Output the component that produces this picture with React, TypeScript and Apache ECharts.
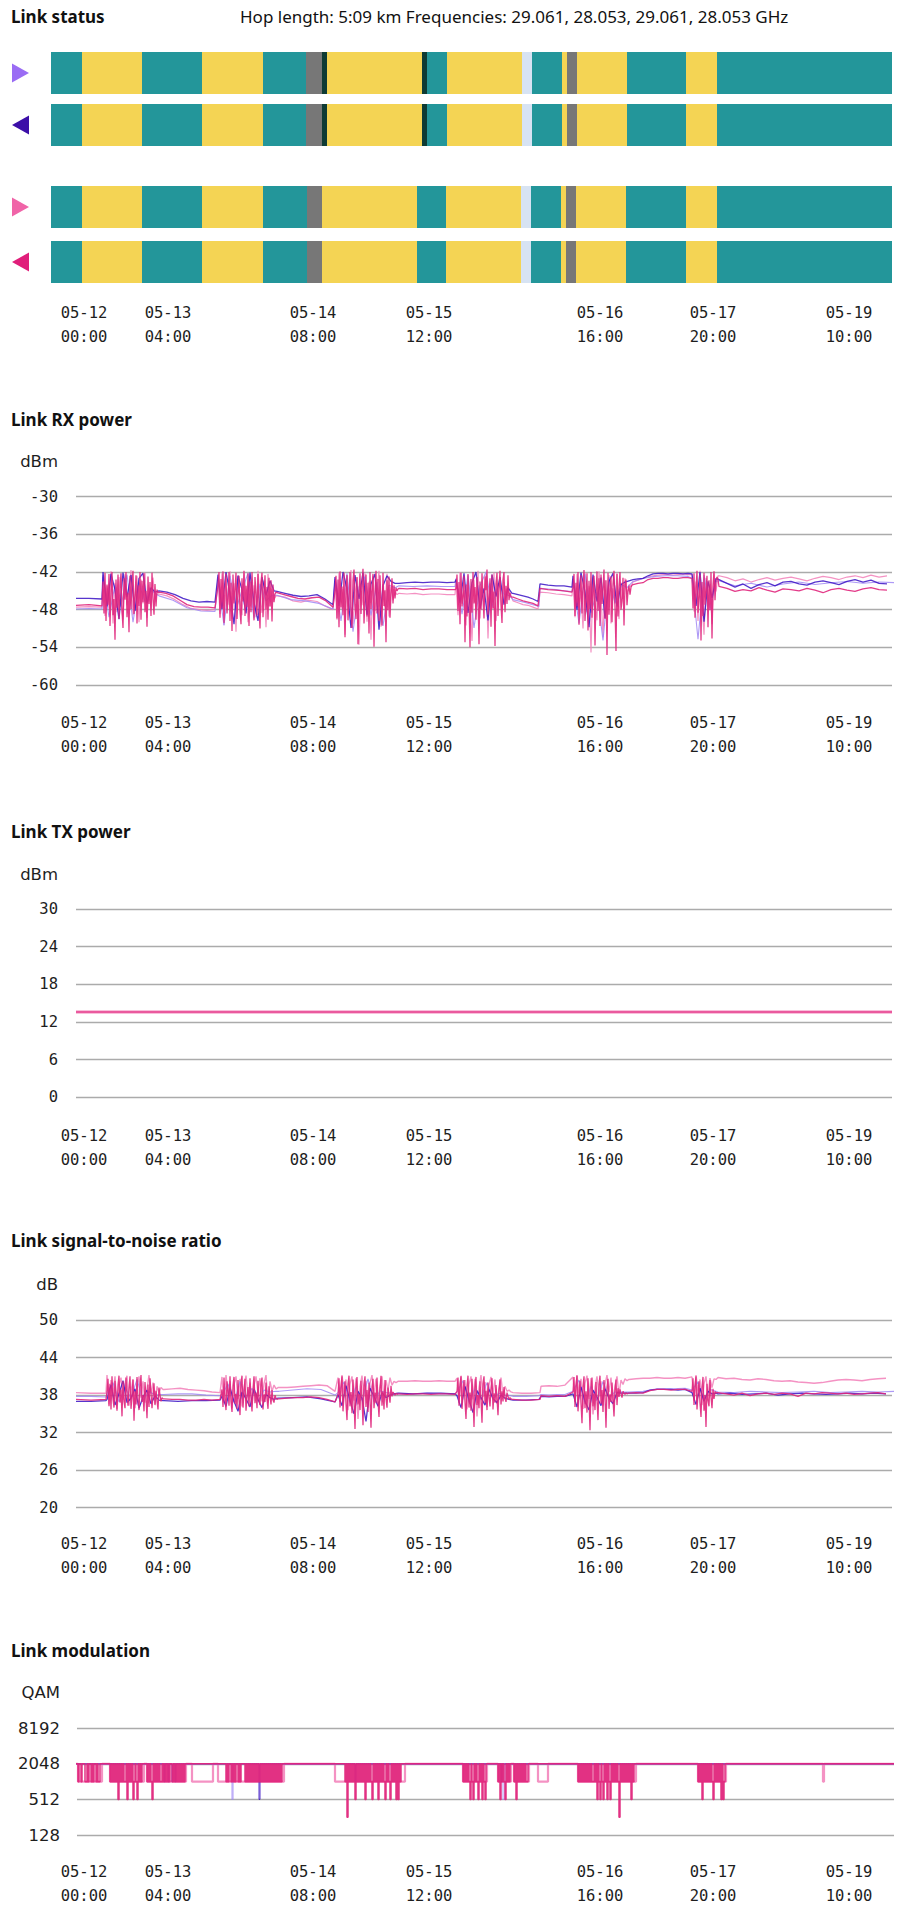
import React, { useEffect, useRef } from "react";
import * as echarts from "echarts";

// ---------- shared x axis (sample index) ----------
const tickT = [33, 117, 262, 378, 549, 662, 798];
const tickLabels = ["05-12\n00:00", "05-13\n04:00", "05-14\n08:00", "05-15\n12:00", "05-16\n16:00", "05-17\n20:00", "05-19\n10:00"];

// ---------- link status ----------
const statusRows = ["dir1-near", "dir1-far", "dir2-near", "dir2-far"];
const stateColors: Record<string, string> = {
  up: "#23969a",
  degraded: "#f4d454",
  unknown: "#777777",
  down: "#0e3b34",
  nodata: "#d7e3f3",
};
const statusBoundsA = [0, 31, 91, 151, 212, 255, 271, 276, 371, 376, 396, 471, 481, 511, 516, 526, 576, 635, 666, 841];
const statusStatesA = ["up", "degraded", "up", "degraded", "up", "unknown", "down", "degraded", "down", "up", "degraded", "nodata", "up", "degraded", "unknown", "degraded", "up", "degraded", "up"];
const statusBoundsB = [0, 31, 91, 151, 212, 256, 271, 366, 395, 470, 480, 510, 515, 525, 575, 635, 666, 841];
const statusStatesB = ["up", "degraded", "up", "degraded", "up", "unknown", "degraded", "up", "degraded", "nodata", "up", "degraded", "unknown", "degraded", "up", "degraded", "up"];

// ---------- series runs: [startIndex, step, ...values] ----------
// RX power (dBm)
const rxA = [
  [25, 13, -47.9, -47.8, -47.9],
  [52, 6, -42.8, -49.2, -44.0, -47.5, -42.4, -50.0, -43.6, -46.8, -44.9, -45.6],
  [108, 14, -45.8, -46.5, -47.7, -48.2, -48.3],
  [167, 6, -43.5, -50.5, -42.6, -48.0, -44.9, -42.2, -49.4, -43.9, -46.6, -45.7],
  [226, 14, -45.7, -46.4, -46.6, -47.0, -47.9],
  [284, 6, -43.1, -49.8, -42.2, -51.5, -44.4, -42.7, -48.9, -43.6, -50.6, -44.1, -44.5],
  [348, 14, -44.2, -44.3, -44.2, -44.3, -44.3],
  [405, 6, -43.0, -48.7, -42.5, -50.9, -44.2, -42.0, -47.6, -43.8, -45.5, -45.8],
  [462, 13, -46.4, -46.9, -47.5],
  [489, 8, -44.6, -44.7, -44.8, -45.0, -45.1],
  [522, 6, -43.4, -50.2, -42.3, -48.5, -45.1, -52.9, -42.8, -47.0, -43.9, -44.5],
  [582, 11, -43.5, -43.0, -42.7, -42.6, -42.6, -42.7],
  [641, 6, -43.0, -52.7, -42.5, -48.0, -43.5],
  [668, 16, -43.4, -44.2, -43.8, -44.4, -43.9, -43.6, -44.0, -43.7, -43.5, -43.8, -43.6, -43.7],
];
const rxB = [
  [25, 13, -46.2, -46.2, -46.3],
  [52, 4, -42.0, -47.5, -42.3, -44.8, -49.5, -42.1, -46.0, -42.5, -48.2, -43.0, -42.2, -47.0, -44.5, -45.2],
  [108, 8, -45.0, -45.2, -45.6, -46.2, -46.6, -46.8, -46.7, -46.8],
  [167, 4, -42.4, -47.9, -42.0, -45.5, -50.3, -42.6, -44.8, -48.6, -42.1, -46.9, -49.8, -42.8, -45.7, -43.4, -45.0],
  [226, 8, -45.1, -45.4, -45.7, -45.9, -45.8, -45.6, -46.3, -47.2],
  [284, 4, -42.8, -47.4, -42.0, -44.7, -50.9, -42.5, -46.3, -42.1, -48.8, -43.9, -42.3, -51.2, -44.2, -42.6, -43.5, -43.8],
  [348, 8, -43.8, -43.7, -43.6, -43.7, -43.6, -43.6, -43.7, -43.6],
  [405, 4, -43.2, -46.9, -42.2, -48.5, -43.7, -42.0, -47.8, -44.6, -49.7, -42.4, -45.9, -42.8, -47.2, -44.5, -45.4],
  [462, 5, -45.4, -45.6, -45.8, -46.0, -46.3, -46.7],
  [489, 8, -43.9, -44.1, -44.2, -44.2, -44.4],
  [522, 4, -42.6, -48.0, -42.1, -45.2, -50.8, -42.4, -46.7, -42.9, -49.3, -43.5, -42.2, -47.5, -44.0, -43.6, -43.4],
  [582, 5, -43.2, -43.1, -43.0, -42.6, -42.3, -42.2, -42.2, -42.3, -42.2, -42.2, -42.3, -42.2],
  [641, 4, -42.3, -47.4, -42.0, -49.9, -43.5, -46.1, -43.0],
  [668, 8, -43.2, -43.8, -44.4, -43.9, -44.6, -44.0, -43.7, -44.2, -43.6, -43.5, -43.9, -44.1, -43.6, -43.4, -43.7, -44.0, -43.5, -43.2, -43.6, -43.3, -43.8, -43.9],
];
const rxC = [
  [25, 13, -47.6, -47.5, -47.6],
  [52, 2, -42.5, -49.0, -44.2, -47.8, -41.9, -50.2, -43.7, -48.4, -42.8, -46.9, -49.6, -42.3, -47.3, -44.8, -41.7, -48.9, -45.9, -42.6, -50.0, -43.2, -47.0, -42.1, -49.3, -44.6, -48.1, -42.9, -46.4, -45.6],
  [108, 8, -45.5, -45.8, -46.4, -47.2, -47.8, -48.0, -48.1, -48.0],
  [167, 2, -43.0, -48.7, -42.2, -50.4, -44.6, -47.2, -41.9, -49.5, -43.8, -51.5, -42.5, -46.6, -48.9, -42.0, -45.3, -50.0, -42.7, -47.7, -44.1, -49.2, -41.8, -46.0, -48.5, -43.4, -50.8, -42.3, -47.5, -44.7, -46.3, -45.8],
  [226, 8, -45.8, -46.0, -46.6, -46.8, -46.5, -46.7, -47.4, -48.0],
  [284, 2, -43.4, -49.6, -42.1, -47.9, -44.7, -52.0, -42.4, -48.6, -41.7, -50.3, -45.5, -42.9, -53.6, -44.0, -47.3, -42.2, -49.9, -43.5, -52.8, -42.6, -48.2, -45.0, -41.8, -50.7, -43.9, -47.6, -42.3, -49.1, -44.4, -46.5, -45.2, -45.6],
  [348, 8, -45.4, -45.5, -45.4, -45.6, -45.5, -45.5, -45.6, -45.6],
  [405, 2, -43.5, -48.9, -42.0, -47.1, -44.9, -50.5, -42.6, -46.4, -53.0, -43.2, -48.0, -41.8, -49.4, -44.3, -46.8, -42.4, -52.6, -43.8, -47.9, -42.1, -49.8, -45.6, -42.9, -48.3, -43.6, -46.1, -44.5, -45.9, -46.2],
  [462, 5, -46.6, -46.9, -47.2, -47.3, -47.6, -47.9],
  [489, 8, -45.2, -45.3, -45.5, -45.6, -45.8],
  [522, 2, -43.1, -49.2, -42.3, -47.7, -45.0, -51.0, -42.0, -48.4, -44.2, -54.8, -42.7, -46.9, -49.7, -41.9, -45.8, -52.4, -43.3, -48.1, -42.5, -50.2, -44.6, -47.0, -42.1, -49.5, -43.7, -46.3, -43.0, -45.5, -44.0, -44.3],
  [582, 5, -43.6, -43.3, -43.0, -42.8, -42.6, -42.5, -42.4, -42.4, -42.5, -42.4, -42.3, -42.4],
  [641, 2, -42.4, -48.3, -43.5, -49.8, -41.8, -46.6, -52.0, -42.9, -47.5, -44.0, -50.3, -42.2, -45.1, -42.6],
  [668, 8, -42.6, -42.9, -43.4, -43.1, -43.6, -43.2, -42.9, -43.3, -43.0, -42.8, -43.1, -43.4, -43.0, -42.7, -42.9, -43.2, -42.8, -42.6, -42.9, -42.5, -42.8, -42.6],
];
const rxD = [
  [25, 13, -47.3, -47.2, -47.4],
  [52, 1, -43.5, -48.6, -42.1, -49.8, -44.0, -47.2, -42.3, -50.6, -45.1, -42.0, -48.9, -46.3, -52.8, -43.2, -47.7, -42.4, -49.5, -44.6, -42.2, -48.1, -50.9, -43.0, -46.4, -42.0, -49.2, -45.3, -51.6, -42.6, -47.9, -43.8, -41.8, -48.7, -46.0, -42.5, -50.2, -44.1, -47.4, -42.0, -49.6, -43.4, -46.8, -42.2, -48.4, -45.0, -50.7, -42.7, -47.1, -43.6, -49.0, -42.1, -46.2, -48.8, -43.9, -47.5, -44.8, -45.3],
  [108, 7, -45.2, -45.4, -45.8, -46.5, -47.2, -47.5, -47.6, -47.6, -47.7],
  [167, 1, -44.2, -42.0, -49.3, -43.1, -47.8, -41.9, -50.1, -44.5, -42.3, -48.6, -46.2, -42.0, -49.8, -43.7, -51.4, -42.4, -47.0, -44.9, -42.1, -49.5, -45.6, -42.6, -48.2, -50.3, -43.0, -46.7, -41.8, -49.0, -44.2, -47.6, -42.2, -50.6, -43.5, -48.4, -42.0, -46.1, -49.7, -42.8, -45.4, -48.9, -42.3, -47.3, -51.0, -43.6, -42.1, -49.2, -45.8, -42.5, -48.0, -44.4, -49.6, -42.9, -47.5, -43.3, -49.9, -44.0, -46.8, -45.5, -45.2],
  [226, 7, -45.3, -45.6, -45.9, -46.2, -46.3, -46.1, -46.0, -46.6, -47.6],
  [284, 1, -45.0, -42.6, -49.4, -43.2, -50.8, -41.9, -47.6, -44.3, -48.9, -42.1, -52.4, -44.8, -42.5, -49.7, -46.1, -42.0, -48.3, -50.9, -43.4, -41.6, -47.2, -49.5, -42.8, -53.5, -45.2, -42.2, -48.7, -44.0, -41.5, -50.2, -46.5, -42.4, -49.1, -43.7, -51.8, -42.0, -47.9, -44.6, -42.3, -53.9, -45.7, -41.8, -48.6, -43.1, -49.8, -42.5, -46.9, -50.5, -42.1, -47.4, -44.9, -53.2, -43.3, -48.1, -42.7, -49.3, -45.4, -43.0, -47.0, -44.1, -46.2, -44.5, -45.0, -44.7],
  [348, 8, -44.6, -44.7, -44.6, -44.8, -44.7, -44.7, -44.8, -44.8],
  [405, 1, -44.7, -42.4, -48.2, -43.6, -50.3, -42.1, -47.5, -45.8, -42.6, -53.2, -44.0, -49.1, -42.3, -46.7, -54.0, -43.1, -48.5, -42.0, -47.0, -44.4, -49.6, -42.8, -45.9, -53.5, -43.5, -48.0, -42.2, -46.3, -49.4, -42.7, -44.9, -41.6, -48.8, -46.0, -43.0, -50.7, -42.4, -47.8, -45.1, -53.8, -43.8, -42.1, -49.0, -44.6, -41.8, -47.3, -50.1, -43.2, -42.0, -48.4, -44.2, -47.1, -42.5, -46.5, -45.3, -45.9, -46.0],
  [462, 5, -46.0, -46.3, -46.6, -46.8, -47.0, -47.4],
  [489, 8, -44.6, -44.8, -44.9, -45.0, -45.2],
  [522, 1, -44.5, -42.3, -49.0, -43.7, -47.5, -42.0, -50.4, -45.2, -42.5, -48.6, -44.1, -41.7, -49.8, -46.3, -42.2, -51.3, -43.4, -47.9, -42.0, -49.3, -44.8, -42.6, -53.7, -45.5, -41.9, -48.2, -43.0, -50.6, -42.4, -47.1, -44.6, -41.6, -49.5, -43.3, -55.2, -42.1, -48.8, -45.0, -42.7, -50.0, -43.9, -41.8, -47.6, -54.6, -42.3, -49.1, -44.3, -42.0, -48.0, -46.6, -42.9, -50.5, -44.0, -43.2, -47.3, -45.1, -44.2, -45.6, -44.4, -44.1],
  [582, 5, -44.0, -43.8, -43.7, -43.2, -43.0, -43.0, -42.9, -42.9, -43.0, -43.0, -42.9, -42.9],
  [641, 1, -43.0, -47.8, -42.2, -49.3, -44.6, -41.8, -48.5, -46.0, -42.4, -52.9, -43.6, -49.0, -42.1, -47.2, -44.9, -42.6, -50.8, -43.3, -48.1, -42.0, -52.6, -44.2, -41.9, -46.5, -43.4, -42.8, -43.2],
  [668, 8, -44.3, -44.6, -45.1, -44.8, -45.0, -44.5, -44.9, -45.2, -44.7, -44.8, -45.0, -44.6, -44.9, -45.3, -44.8, -44.6, -44.9, -45.1, -44.7, -44.5, -44.8, -44.9],
];

// TX power (dBm)
const txC = [[25, 204, 13.6, 13.6, 13.6, 13.6, 13.6]];
const txD = [[25, 204, 13.6, 13.6, 13.6, 13.6, 13.6]];

// Signal-to-noise ratio (dB)
const snrA = [
  [25, 15, 37.8, 37.8, 37.7],
  [56, 6, 38.2, 40.0, 36.9, 39.2, 37.5, 40.5, 37.1, 38.6, 38.0, 38.1],
  [113, 14, 38.1, 38.2, 38.2, 38.0, 37.9],
  [171, 6, 38.0, 39.8, 36.8, 40.2, 37.4, 39.1, 37.0, 38.8, 38.5, 38.6],
  [228, 14, 38.6, 38.8, 39.0, 38.9, 38.0],
  [287, 6, 38.4, 40.1, 36.7, 39.3, 37.2, 40.6, 36.9, 38.7, 38.4, 38.3, 38.2],
  [348, 14, 38.2, 38.2, 38.3, 38.2, 38.2],
  [406, 6, 38.5, 40.3, 36.8, 39.0, 37.3, 40.0, 37.5, 38.3, 38.0, 37.9],
  [462, 13, 37.8, 37.8, 37.9],
  [490, 8, 38.1, 38.0, 38.1, 38.1],
  [522, 6, 38.6, 40.4, 36.6, 39.4, 37.1, 40.2, 37.6, 38.5, 38.5, 38.5],
  [578, 14, 38.5, 38.6, 39.0, 39.0, 39.1],
  [641, 6, 38.8, 40.1, 37.2, 38.9, 38.6],
  [667, 16, 38.5, 38.4, 38.6, 38.5, 38.4, 38.5, 38.6, 38.4, 38.5, 38.6, 38.5, 38.6],
];
const snrB = [
  [25, 15, 37.0, 37.0, 37.1],
  [56, 4, 37.3, 39.6, 36.4, 38.2, 40.3, 36.8, 37.5, 39.0, 35.9, 37.7, 38.8, 36.6, 37.9, 37.2, 37.1],
  [113, 14, 37.1, 37.0, 37.1, 37.1, 37.2],
  [171, 4, 37.8, 36.2, 39.2, 37.0, 35.4, 38.5, 37.4, 36.1, 39.0, 37.3, 36.0, 38.1, 37.6, 37.3, 37.5],
  [228, 14, 37.5, 37.6, 37.7, 37.4, 36.9],
  [287, 4, 38.1, 36.3, 39.5, 37.2, 35.0, 38.6, 37.5, 33.8, 39.1, 37.8, 36.2, 38.4, 37.6, 38.0, 38.2, 38.3],
  [348, 14, 38.3, 38.2, 38.3, 38.3, 38.2],
  [406, 4, 37.9, 36.0, 39.4, 37.3, 35.2, 38.7, 37.6, 36.4, 38.9, 37.4, 36.8, 38.0, 37.5, 37.3],
  [462, 13, 37.2, 37.2, 37.3],
  [490, 8, 37.8, 37.7, 37.8, 37.8],
  [522, 4, 38.2, 36.1, 39.3, 37.0, 35.6, 38.8, 37.7, 36.3, 39.0, 37.5, 36.6, 38.4, 38.3, 38.3],
  [578, 7, 38.3, 38.3, 38.4, 38.8, 38.9, 38.9, 38.9, 38.8, 38.9],
  [641, 4, 38.4, 36.5, 39.1, 37.0, 38.6, 38.2, 38.3],
  [667, 12, 38.2, 38.3, 38.1, 38.2, 38.3, 38.0, 38.2, 38.3, 38.2, 38.1, 38.2, 38.3, 38.2, 38.3, 38.2],
];
const snrC = [
  [25, 15, 38.4, 38.3, 38.3],
  [56, 2, 41.2, 36.5, 40.4, 38.0, 41.0, 35.8, 39.6, 40.8, 37.2, 39.9, 41.1, 36.3, 38.6, 40.5, 35.9, 39.3, 41.0, 37.6, 40.2, 36.8, 39.0, 41.2, 38.2, 40.0, 36.6, 39.4, 38.4, 39.2, 38.9],
  [113, 8, 38.9, 39.0, 39.1, 38.9, 38.8, 38.7, 38.5, 38.4],
  [171, 2, 40.9, 36.7, 41.2, 38.1, 40.3, 35.9, 39.7, 41.0, 37.4, 40.6, 36.2, 39.2, 41.1, 37.9, 40.0, 36.5, 39.5, 41.0, 38.3, 40.7, 37.0, 39.8, 41.2, 36.8, 40.2, 38.6, 39.6, 39.0, 39.2],
  [228, 8, 39.2, 39.2, 39.3, 39.4, 39.5, 39.6, 39.5, 38.6],
  [287, 2, 40.8, 36.9, 41.2, 38.4, 40.5, 35.6, 39.8, 41.0, 37.1, 40.7, 34.2, 39.4, 41.1, 37.8, 40.3, 36.0, 39.9, 41.2, 38.0, 40.6, 36.4, 39.3, 41.0, 37.5, 40.4, 38.7, 40.8, 39.6, 40.2, 40.0, 40.2],
  [348, 8, 40.2, 40.2, 40.3, 40.2, 40.2, 40.3, 40.2, 40.2],
  [406, 2, 40.7, 36.8, 41.1, 38.2, 40.4, 35.7, 39.7, 41.0, 37.3, 40.6, 34.6, 39.2, 41.2, 37.7, 40.1, 36.1, 39.6, 40.9, 38.1, 40.5, 36.6, 39.0, 40.8, 37.9, 39.4, 38.6, 38.8, 38.5],
  [462, 9, 38.4, 38.3, 38.3, 38.4],
  [490, 8, 39.4, 39.5, 39.4, 39.6],
  [522, 2, 40.9, 36.9, 41.2, 38.3, 40.6, 35.8, 39.9, 41.1, 37.4, 40.7, 34.9, 39.3, 41.0, 37.8, 40.2, 36.3, 39.7, 41.2, 38.5, 40.8, 36.7, 39.5, 41.0, 38.1, 40.4, 39.7, 40.6, 40.3],
  [578, 7, 40.5, 40.6, 40.7, 40.7, 40.8, 40.7, 40.7, 40.8, 40.7],
  [641, 2, 40.9, 37.1, 41.2, 38.6, 40.5, 36.4, 39.8, 41.0, 37.9, 40.7, 39.2, 40.6, 40.5],
  [667, 8, 40.8, 40.6, 40.7, 40.5, 40.4, 40.6, 40.5, 40.3, 40.2, 40.3, 40.1, 40.0, 39.9, 40.0, 40.2, 40.4, 40.5, 40.4, 40.3, 40.5, 40.6, 40.7],
];
const snrD = [
  [25, 15, 37.3, 37.2, 37.3],
  [56, 1, 38.5, 40.6, 36.2, 39.8, 35.7, 41.0, 37.4, 36.0, 40.3, 38.1, 35.5, 39.6, 41.1, 36.8, 38.9, 34.6, 40.2, 37.0, 35.9, 40.8, 38.4, 36.3, 39.1, 41.0, 35.8, 37.7, 40.5, 33.9, 38.6, 36.5, 40.9, 37.2, 35.6, 39.4, 41.2, 36.9, 38.0, 35.4, 40.1, 37.6, 34.3, 39.7, 36.1, 40.7, 38.3, 35.9, 37.9, 39.9, 36.4, 38.7, 37.1, 35.7, 39.2, 38.0, 37.0, 37.6, 37.4],
  [113, 8, 37.4, 37.3, 37.3, 37.2, 37.2, 37.3, 37.2, 37.3],
  [171, 1, 38.9, 36.1, 40.8, 37.5, 35.6, 40.2, 38.7, 36.3, 41.0, 37.0, 35.3, 39.5, 40.9, 36.6, 38.2, 35.8, 40.4, 37.3, 34.8, 39.9, 41.1, 36.0, 38.5, 40.6, 35.5, 37.8, 39.3, 36.2, 40.7, 37.6, 35.4, 39.0, 41.0, 36.7, 38.4, 35.9, 40.3, 37.1, 36.4, 39.7, 40.8, 35.7, 38.1, 36.9, 40.0, 37.4, 35.8, 39.4, 37.9, 36.5, 38.8, 37.2, 36.8, 38.0, 37.5, 37.3, 37.4],
  [228, 8, 37.4, 37.5, 37.6, 37.6, 37.7, 37.6, 37.3, 36.9],
  [287, 1, 38.0, 40.7, 36.0, 39.4, 41.0, 35.4, 37.9, 40.2, 36.6, 34.0, 39.8, 41.1, 36.2, 38.5, 35.1, 40.5, 37.3, 32.6, 39.1, 40.9, 36.5, 38.2, 35.6, 40.3, 37.7, 33.2, 39.6, 41.0, 36.1, 38.8, 35.3, 40.0, 37.4, 32.8, 39.3, 40.6, 35.9, 38.4, 36.7, 40.8, 37.1, 34.5, 39.0, 41.1, 36.3, 38.6, 35.7, 40.4, 37.5, 36.0, 39.2, 38.1, 36.8, 39.5, 37.8, 38.5, 38.2, 38.0, 38.3, 38.1, 38.2],
  [348, 8, 38.2, 38.1, 38.2, 38.2, 38.1, 38.2, 38.2, 38.1],
  [406, 1, 38.6, 40.8, 36.3, 39.7, 41.0, 35.8, 38.1, 40.4, 36.9, 34.2, 39.5, 41.1, 36.0, 38.4, 35.5, 40.6, 37.6, 32.9, 39.2, 40.9, 36.4, 38.0, 35.9, 40.2, 37.2, 33.6, 39.8, 41.0, 36.7, 38.7, 35.6, 40.0, 37.8, 36.2, 39.1, 40.7, 35.7, 38.3, 36.8, 39.6, 37.4, 34.8, 38.9, 40.5, 36.5, 38.6, 37.0, 39.3, 37.6, 36.9, 38.4, 37.8, 37.3, 37.6, 37.4, 37.3],
  [462, 9, 37.3, 37.2, 37.2, 37.3],
  [490, 8, 37.9, 37.8, 37.9, 37.8],
  [522, 1, 38.5, 40.9, 36.1, 39.6, 41.1, 35.4, 38.0, 40.3, 36.7, 33.5, 39.4, 41.0, 35.9, 38.6, 35.2, 40.7, 37.5, 32.4, 39.0, 40.8, 36.2, 38.3, 35.6, 40.1, 37.2, 34.0, 39.7, 41.1, 36.6, 38.8, 35.3, 40.4, 37.9, 32.8, 39.2, 40.6, 35.8, 38.1, 36.9, 40.0, 37.3, 34.6, 38.7, 40.5, 36.4, 39.1, 37.7, 38.9, 38.2, 37.6, 38.6, 38.3, 38.1, 38.4, 38.2, 38.3],
  [578, 7, 38.3, 38.4, 38.3, 38.7, 38.9, 38.9, 38.8, 38.9, 38.9],
  [641, 1, 38.6, 40.7, 36.4, 39.5, 41.0, 35.7, 38.2, 40.2, 36.8, 34.5, 39.3, 40.9, 35.5, 38.0, 32.9, 39.8, 37.1, 36.2, 40.4, 37.7, 35.9, 39.0, 37.4, 38.6, 38.3, 38.4],
  [667, 8, 38.4, 38.2, 38.0, 38.3, 37.9, 38.2, 38.3, 38.1, 38.3, 38.2, 37.8, 38.3, 38.2, 38.4, 38.3, 38.2, 38.3, 38.1, 38.2, 38.3, 38.4, 38.2],
];

// Modulation (QAM order), change points
const modA = [[25, 1, 2048], [181, 1, 512, 2048], [452, 1, 512, 512, 2048], [843, 1, 2048]];
const modB = [
  [25, 1, 2048], [113, 1, 1024, 2048], [117, 1, 1024, 2048], [121, 1, 1024, 2048], [124, 1, 1024, 2048],
  [208, 1, 512, 2048], [304, 1, 1024, 2048], [450, 1, 1024, 2048], [843, 1, 2048],
];
const modC = [
  [25, 1, 2048], [27, 1, 1024], [51, 1, 2048], [59, 1, 1024], [93, 1, 2048], [96, 1, 1024], [135, 1, 2048],
  [141, 1, 1024], [162, 1, 2048], [167, 1, 1024], [233, 1, 2048], [284, 1, 1024], [354, 1, 2048],
  [412, 1, 1024], [436, 1, 2048], [447, 1, 1024], [460, 1, 2048], [463, 1, 1024], [478, 1, 2048],
  [487, 1, 1024], [497, 1, 2048], [527, 1, 1024], [585, 1, 2048], [647, 1, 1024], [675, 1, 2048],
  [772, 1, 1024], [773, 1, 2048], [843, 1, 2048],
];
const modD = [
  [25, 1, 2048],
  [27, 1, 1024, 2048, 2048, 1024, 2048, 2048, 2048, 1024, 1024, 2048, 1024, 2048, 2048, 1024, 2048, 1024, 2048, 2048, 1024, 2048, 1024, 1024, 2048, 2048],
  [59, 1, 1024, 2048, 1024, 2048, 1024, 2048, 1024, 2048, 512, 2048, 1024, 2048, 1024, 2048, 1024, 1024, 2048, 512, 2048, 1024, 2048, 1024, 2048, 512, 1024, 2048, 1024, 512, 2048, 1024, 2048, 1024, 2048, 2048],
  [96, 1, 1024, 2048, 1024, 2048, 1024, 512, 2048, 1024, 2048, 1024, 2048, 1024, 2048, 1024, 1024, 2048, 1024, 2048, 1024, 2048, 1024, 2048, 1024, 2048, 2048, 1024, 2048, 1024, 2048, 1024, 2048, 1024, 2048, 1024, 2048, 1024, 2048, 1024, 2048],
  [175, 1, 1024, 2048, 1024, 2048, 2048, 1024, 2048, 1024, 2048, 1024, 2048, 2048, 1024, 2048, 1024, 2048],
  [194, 1, 1024, 2048, 1024, 2048, 1024, 2048, 1024, 2048, 1024, 2048, 1024, 2048, 1024, 2048, 1024, 2048, 1024, 2048, 1024, 2048, 1024, 2048, 1024, 2048, 1024, 2048, 1024, 2048, 1024, 2048, 1024, 2048, 1024, 2048, 1024, 2048, 1024, 2048, 2048],
  [294, 1, 1024, 2048, 256, 2048, 1024, 2048, 1024, 2048, 1024, 2048, 512, 2048, 1024, 2048, 1024, 2048, 1024, 2048, 1024, 2048, 512, 2048, 1024, 2048, 1024, 2048, 1024, 512, 2048, 1024, 2048, 1024, 2048, 512, 2048, 1024, 2048, 1024, 2048, 1024, 512, 2048, 1024, 2048, 1024, 512, 2048, 1024, 2048, 1024, 2048, 512, 2048, 512, 2048, 1024, 2048, 2048],
  [412, 1, 1024, 2048, 1024, 2048, 1024, 2048, 1024, 512, 2048, 1024, 512, 2048, 1024, 2048, 1024, 512, 2048, 1024, 2048, 512, 2048, 1024, 512, 2048],
  [447, 1, 1024, 2048, 512, 2048, 1024, 2048, 1024, 512, 2048, 1024, 2048, 1024, 2048],
  [463, 1, 1024, 2048, 512, 2048, 1024, 2048, 1024, 2048, 1024, 2048, 1024, 2048, 1024, 1024, 2048],
  [527, 1, 1024, 2048, 1024, 2048, 1024, 2048, 1024, 2048, 1024, 2048, 1024, 2048, 1024, 2048, 1024, 1024, 2048, 1024, 2048, 512, 2048, 1024, 512, 2048, 1024, 512, 2048, 1024, 2048, 512, 2048, 1024, 512, 2048, 1024, 2048, 1024, 2048, 1024, 2048, 1024, 256, 2048, 1024, 2048, 1024, 2048, 1024, 2048, 1024, 2048, 1024, 2048, 512, 2048, 1024, 2048, 2048],
  [647, 1, 1024, 2048, 1024, 2048, 512, 2048, 1024, 2048, 1024, 2048, 1024, 2048, 1024, 2048, 1024, 512, 2048, 1024, 2048, 1024, 2048, 1024, 2048, 512, 2048, 512, 1024, 2048],
  [843, 1, 2048],
];

// ---------- colours ----------
const colA = "#a088f5";
const colB = "#3a12c4";
const colC = "#f27fb8";
const colD = "#e0267c";

function expand(runs: number[][], f: (v: number) => number = (v) => v): number[][] {
  const out: number[][] = [];
  for (const r of runs) {
    const [t0, dt, ...vals] = r;
    vals.forEach((v, i) => out.push([t0 + i * dt, f(v)]));
  }
  return out;
}

function statusData(bounds: number[], states: string[], rows: number[]) {
  const out: any[] = [];
  rows.forEach((row) => {
    states.forEach((s, i) => out.push([row, bounds[i], bounds[i + 1], s]));
  });
  return out;
}

const monoFont = "DejaVu Sans Mono";
const textColor = "#1e1e1e";

function xAxisFor(gridIndex: number, min: number, max: number, margin: number, show: boolean) {
  return {
    type: "value",
    gridIndex,
    min,
    max,
    axisLine: { show: false },
    axisTick: { show: false },
    splitLine: { show: false },
    axisLabel: {
      show,
      customValues: tickT,
      formatter: (v: number) => {
        const i = tickT.indexOf(v);
        return i >= 0 ? tickLabels[i] : "";
      },
      margin,
      fontFamily: monoFont,
      fontSize: 15.5,
      lineHeight: 24,
      color: textColor,
      hideOverlap: false,
    },
  };
}

function yAxisFor(gridIndex: number, min: number, max: number, interval: number, name: string, nameGap: number, fmt: (v: number) => string, labelFont = monoFont, labelSize = 15.5, labelMargin = 18) {
  return {
    type: "value",
    gridIndex,
    min,
    max,
    interval,
    name,
    nameLocation: "end",
    nameGap,
    nameTextStyle: {
      fontFamily: "DejaVu Sans",
      fontSize: 16.5,
      color: textColor,
      align: "right",
      verticalAlign: "middle",
      padding: [0, labelMargin, 0, 0],
    },
    axisLine: { show: false },
    axisTick: { show: false },
    splitLine: { lineStyle: { color: "#ababab", width: 1.3 } },
    axisLabel: { margin: labelMargin, fontFamily: labelFont, fontSize: labelSize, color: textColor, formatter: fmt },
  };
}

function lineSeries(name: string, idx: number, runs: number[][], color: string, width: number, f?: (v: number) => number, step?: any, opacity = 0.85) {
  return {
    type: "line",
    name,
    xAxisIndex: idx,
    yAxisIndex: idx,
    data: expand(runs, f),
    showSymbol: false,
    symbol: "none",
    step: step || false,
    lineStyle: { color, width, opacity },
    itemStyle: { color },
    emphasis: { disabled: true },
    z: 2,
  };
}

function statusSeries(idx: number, data: any[]) {
  return {
    type: "custom",
    xAxisIndex: idx,
    yAxisIndex: idx,
    encode: { x: [1, 2], y: 0 },
    data,
    renderItem: (_p: any, api: any) => {
      const row = api.value(0);
      const s = api.coord([api.value(1), row]);
      const e = api.coord([api.value(2), row]);
      const h = 42;
      return {
        type: "rect",
        shape: { x: s[0], y: s[1] - h / 2, width: e[0] - s[0], height: h },
        style: { fill: stateColors[data[_p.dataIndex][3]] },
      };
    },
  };
}

function tri(cx: number, cy: number, dir: number, color: string) {
  const w = 17, h = 19;
  const pts = dir > 0
    ? [[cx - w / 2, cy - h / 2], [cx + w / 2, cy], [cx - w / 2, cy + h / 2]]
    : [[cx + w / 2, cy - h / 2], [cx - w / 2, cy], [cx + w / 2, cy + h / 2]];
  return { type: "polygon", shape: { points: pts }, style: { fill: color } };
}

function title(text: string, y: number) {
  return { type: "text", x: 11, y, style: { text, font: 'bold 17px "Noto Sans"', fill: "#111", verticalAlign: "middle" } };
}

export default function App() {
  const ref = useRef<HTMLDivElement>(null);
  useEffect(() => {
    if (!ref.current) return;
    const chart = echarts.init(ref.current, null, { renderer: "svg" });
    const snrF = (v: number) => v - 20;
    const modF = (q: number) => Math.log2(q) - 7;
    const option: any = {
      animation: false,
      backgroundColor: "#ffffff",
      grid: [
        { left: 51, right: 6, top: 47, height: 104 },
        { left: 51, right: 6, top: 179.5, height: 110 },
        { left: 76, right: 6, top: 496.7, height: 188.3 },
        { left: 76, right: 6, top: 909, height: 188.3 },
        { left: 76, right: 6, top: 1320, height: 187.7 },
        { left: 77, right: 4, top: 1728.3, height: 112.4 },
      ],
      xAxis: [
        xAxisFor(0, 0, 841, 11, false),
        xAxisFor(1, 0, 841, 11.2, true),
        xAxisFor(2, 25, 841, 25.7, true),
        xAxisFor(3, 25, 841, 26.4, true),
        xAxisFor(4, 25, 841, 24.6, true),
        xAxisFor(5, 26, 843, 25, true),
      ],
      yAxis: [
        { type: "category", gridIndex: 0, data: statusRows.slice(0, 2), inverse: true, show: false },
        { type: "category", gridIndex: 1, data: statusRows.slice(2, 4), inverse: true, show: false },
        yAxisFor(2, -60, -30, 6, "dBm", 35.7, (v) => String(v)),
        yAxisFor(3, 0, 30, 6, "dBm", 35, (v) => String(v)),
        yAxisFor(4, 0, 30, 6, "dB", 36, (v) => String(v + 20)),
        yAxisFor(5, 0, 6, 2, "QAM", 35.6, (v) => String(Math.pow(2, v + 7)), "DejaVu Sans", 16.5, 17),
      ],
      series: [
        statusSeries(0, statusData(statusBoundsA, statusStatesA, [0, 1])),
        statusSeries(1, statusData(statusBoundsB, statusStatesB, [0, 1])),
        lineSeries("rx C", 2, rxC, colC, 1.2),
        lineSeries("rx A", 2, rxA, colA, 1.1),
        lineSeries("rx B", 2, rxB, colB, 1.3),
        lineSeries("rx D", 2, rxD, colD, 1.3, undefined, false, 0.9),
        lineSeries("tx C", 3, txC, colC, 2.5),
        lineSeries("tx D", 3, txD, "#ea5a9e", 2.5, undefined, false, 1),
        lineSeries("snr C", 4, snrC, colC, 1.4, snrF),
        lineSeries("snr A", 4, snrA, colA, 1.1, snrF),
        lineSeries("snr B", 4, snrB, colB, 1.3, snrF),
        lineSeries("snr D", 4, snrD, colD, 1.3, snrF, false, 0.9),
        lineSeries("mod C", 5, modC, colC, 2.2, modF, "end"),
        lineSeries("mod A", 5, modA, colA, 1, modF, "end"),
        lineSeries("mod B", 5, modB, colB, 1, modF, "end"),
        lineSeries("mod D", 5, modD, colD, 1.5, modF, "end", 0.95),
      ],
      graphic: [
        title("Link status", 16),
        { type: "text", x: 240, y: 16, style: { text: "Hop length: 5:09 km Frequencies: 29.061, 28.053, 29.061, 28.053 GHz", font: '17px "Noto Sans"', fill: "#111", verticalAlign: "middle" } },
        title("Link RX power", 419),
        title("Link TX power", 831.7),
        title("Link signal-to-noise ratio", 1240),
        title("Link modulation", 1650),
        tri(20.5, 73, 1, "#9a6cf4"),
        tri(20.5, 125, -1, "#3c0fa8"),
        tri(20.5, 207, 1, "#f064a8"),
        tri(20.5, 262, -1, "#e01e7a"),
      ],
    };
    chart.setOption(option);
    return () => chart.dispose();
  }, []);
  return <div ref={ref} style={{ position: "absolute", left: 0, top: 0, width: 898, height: 1908 }} />;
}
